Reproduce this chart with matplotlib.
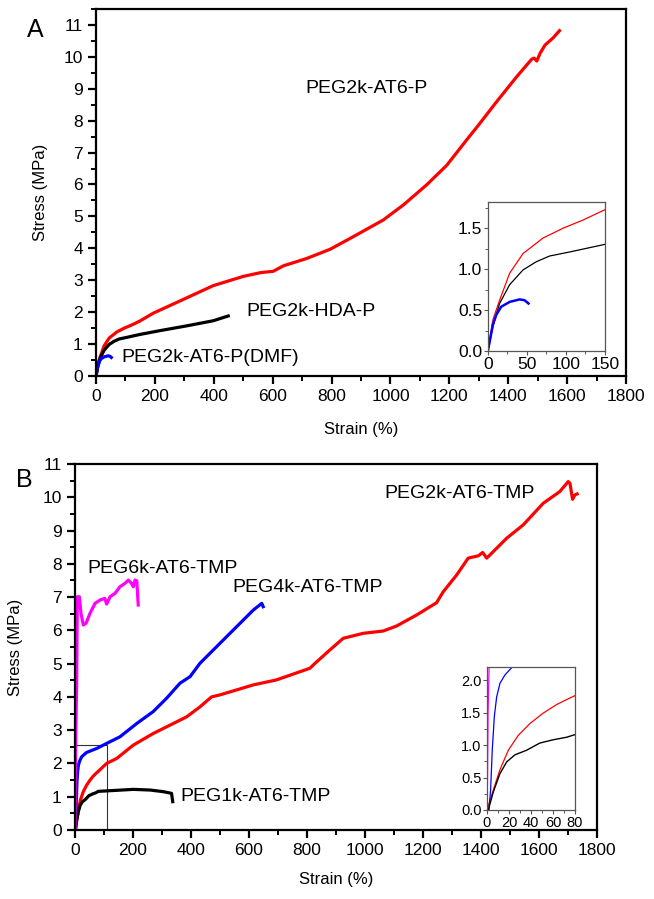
import matplotlib
matplotlib.use("Agg")
import matplotlib.pyplot as plt
from matplotlib.patches import Rectangle
from matplotlib.ticker import MultipleLocator

plt.rcParams['font.family'] = ['Liberation Sans', 'DejaVu Sans']

# Panel A: strain (%) / stress (MPa)
a_red_x = [0, 6.4, 15, 27.9, 45, 70.7, 96.4, 122, 148.7, 195, 297, 398, 500, 560, 602, 636, 715,
           795, 863, 976, 1044, 1123, 1191, 1259, 1304, 1361, 1429, 1480, 1488, 1497, 1508,
           1525, 1553, 1574]
a_red_y = [0, 0.38, 0.62, 0.95, 1.19, 1.38, 1.50, 1.60, 1.72, 1.97, 2.40, 2.83, 3.12, 3.24, 3.28,
           3.45, 3.68, 3.97, 4.31, 4.89, 5.36, 5.99, 6.60, 7.40, 7.92, 8.60, 9.38, 9.93, 9.96,
           9.87, 10.11, 10.37, 10.60, 10.82]
a_black_x = [0, 6.4, 15, 27.9, 45, 62, 79, 105, 148.7, 217, 308, 398, 449]
a_black_y = [0, 0.30, 0.58, 0.81, 0.99, 1.09, 1.16, 1.21, 1.30, 1.42, 1.57, 1.73, 1.88]
a_blue_x = [0, 6.4, 10.7, 17, 28, 40.7, 47, 52]
a_blue_y = [0, 0.32, 0.44, 0.54, 0.60, 0.63, 0.62, 0.58]

# Panel B
b_red_x = [0, 5.8, 11.8, 19.4, 28.5, 39, 51, 63, 72.4, 80, 109, 144, 201, 270, 339, 385, 431,
           471, 500, 615, 695, 810, 828, 879, 925, 994, 1063, 1109, 1178, 1247, 1270, 1316,
           1356, 1391, 1406, 1420, 1443, 1489, 1546, 1615, 1672, 1701, 1707, 1716, 1724, 1732]
b_red_y = [0, 0.31, 0.62, 0.92, 1.15, 1.33, 1.49, 1.62, 1.70, 1.76, 2.0, 2.15, 2.55, 2.9, 3.2,
           3.4, 3.7, 4.0, 4.06, 4.36, 4.51, 4.86, 5.01, 5.41, 5.76, 5.91, 5.98, 6.13, 6.46,
           6.83, 7.16, 7.66, 8.17, 8.24, 8.34, 8.17, 8.37, 8.77, 9.17, 9.82, 10.17, 10.47,
           10.42, 9.94, 10.07, 10.10]
b_blue_x = [0, 1.8, 3.3, 4.8, 6.7, 8.8, 11.8, 16.4, 22.4, 25.5, 40, 75, 109, 155, 213, 270,
            316, 362, 397, 431, 477, 523, 569, 615, 644, 649]
b_blue_y = [0, 0, 0.31, 0.92, 1.44, 1.74, 1.95, 2.08, 2.19, 2.22, 2.33, 2.45, 2.6, 2.8, 3.2,
            3.56, 3.96, 4.41, 4.61, 5.01, 5.41, 5.81, 6.21, 6.61, 6.81, 6.71]
b_black_x = [0, 1.2, 5.8, 11.8, 17.9, 25.5, 36, 48, 60, 72.4, 80, 121, 201, 259, 305, 333, 337]
b_black_y = [0, 0, 0.28, 0.56, 0.74, 0.85, 0.92, 1.03, 1.08, 1.12, 1.16, 1.18, 1.22, 1.2,
             1.15, 1.10, 0.85]
b_mag_x = [0, 0.5, 1, 3, 5.7, 8, 15, 20.7, 28.7, 38, 51.7, 69, 86, 103, 109, 121, 138, 155,
           172, 184, 195, 201, 207, 213, 215, 218]
b_mag_y = [0, 0.5, 1.5, 3.0, 4.4, 7.01, 7.01, 6.5, 6.16, 6.21, 6.51, 6.81, 6.91, 6.96, 6.79,
           7.01, 7.11, 7.31, 7.41, 7.51, 7.41, 7.31, 7.51, 7.49, 7.21, 6.76]

RED, BLUE, MAG = "#ff0000", "#0000ff", "#ff00ff"


def style_main(ax):
    for s in ax.spines.values():
        s.set_linewidth(1.6)
    ax.set_xlim(0, 1800)
    ax.xaxis.set_major_locator(MultipleLocator(200))
    ax.xaxis.set_minor_locator(MultipleLocator(100))
    ax.yaxis.set_major_locator(MultipleLocator(1))
    ax.yaxis.set_minor_locator(MultipleLocator(0.5))
    ax.tick_params(which="major", direction="out", length=6, width=1.6, labelsize=12.5)
    ax.tick_params(which="minor", direction="out", length=3.5, width=1.4)
    ax.set_xlabel("Strain (%)", fontsize=12)
    ax.set_ylabel("Stress (MPa)", fontsize=12)


def style_inset(ax, size):
    for s in ax.spines.values():
        s.set_linewidth(0.9)
        s.set_color("#555555")
    ax.tick_params(which="major", direction="out", length=3, width=0.8,
                   labelsize=size, pad=1, color="#555555")
    ax.tick_params(which="minor", direction="out", length=2, width=0.7, color="#555555")


fig = plt.figure(figsize=(6.54, 8.99), dpi=100)

# ---- Panel A
axA = fig.add_axes([0.1468, 0.5818, 0.8104, 0.4082])
axA.plot(a_red_x, a_red_y, color=RED, lw=2.3)
axA.plot(a_black_x, a_black_y, color="black", lw=2.3)
axA.plot(a_blue_x, a_blue_y, color=BLUE, lw=2.3)
style_main(axA)
axA.set_ylim(0, 11.5)
axA.xaxis.set_label_coords(0.5, -0.125)
axA.yaxis.set_label_coords(-0.09, 0.5)
axA.text(710, 9.0, "PEG2k-AT6-P", fontsize=14, va="center")
axA.text(509, 2.02, "PEG2k-HDA-P", fontsize=14, va="center")
axA.text(87, 0.59, "PEG2k-AT6-P(DMF)", fontsize=14, va="center")
fig.text(0.0535, 0.9666, "A", fontsize=18, ha="center", va="center")

insA = fig.add_axes([0.746, 0.6096, 0.179, 0.1657])
insA.plot(a_red_x, a_red_y, color=RED, lw=0.9)
insA.plot(a_black_x, a_black_y, color="black", lw=0.9)
insA.plot(a_blue_x, a_blue_y, color=BLUE, lw=1.8)
insA.set_xlim(0, 150)
insA.set_ylim(0, 1.82)
insA.xaxis.set_major_locator(MultipleLocator(50))
insA.xaxis.set_minor_locator(MultipleLocator(25))
insA.yaxis.set_major_locator(MultipleLocator(0.5))
insA.yaxis.set_minor_locator(MultipleLocator(0.25))
insA.yaxis.set_major_formatter(matplotlib.ticker.FormatStrFormatter("%.1f"))
style_inset(insA, 12.5)

# ---- Panel B
axB = fig.add_axes([0.1147, 0.0768, 0.798, 0.4071])
axB.plot(b_red_x, b_red_y, color=RED, lw=2.3)
axB.plot(b_blue_x, b_blue_y, color=BLUE, lw=2.3)
axB.plot(b_black_x, b_black_y, color="black", lw=2.3)
axB.plot(b_mag_x, b_mag_y, color=MAG, lw=2.3)
axB.add_patch(Rectangle((0, 0), 110, 2.55, fill=False, lw=0.8, edgecolor="#333333"))
style_main(axB)
axB.set_ylim(0, 11)
axB.xaxis.set_label_coords(0.5, -0.115)
axB.yaxis.set_label_coords(-0.1, 0.5)
axB.text(42, 7.87, "PEG6k-AT6-TMP", fontsize=14, va="center")
axB.text(542, 7.29, "PEG4k-AT6-TMP", fontsize=14, va="center")
axB.text(362, 1.0, "PEG1k-AT6-TMP", fontsize=14, va="center")
axB.text(1067, 10.12, "PEG2k-AT6-TMP", fontsize=14, va="center")
fig.text(0.0367, 0.466, "B", fontsize=18, ha="center", va="center")

insB = fig.add_axes([0.7446, 0.099, 0.1346, 0.159])
insB.plot(b_red_x, b_red_y, color=RED, lw=0.9)
insB.plot(b_blue_x, b_blue_y, color=BLUE, lw=0.9)
insB.plot(b_black_x, b_black_y, color="black", lw=1.0)
insB.plot(b_mag_x, b_mag_y, color=MAG, lw=0.9)
insB.set_xlim(0, 80)
insB.set_ylim(0, 2.2)
insB.xaxis.set_major_locator(MultipleLocator(20))
insB.xaxis.set_minor_locator(MultipleLocator(10))
insB.yaxis.set_major_locator(MultipleLocator(0.5))
insB.yaxis.set_minor_locator(MultipleLocator(0.25))
insB.yaxis.set_major_formatter(matplotlib.ticker.FormatStrFormatter("%.1f"))
style_inset(insB, 10.5)

fig.savefig("out.png", dpi=100)
